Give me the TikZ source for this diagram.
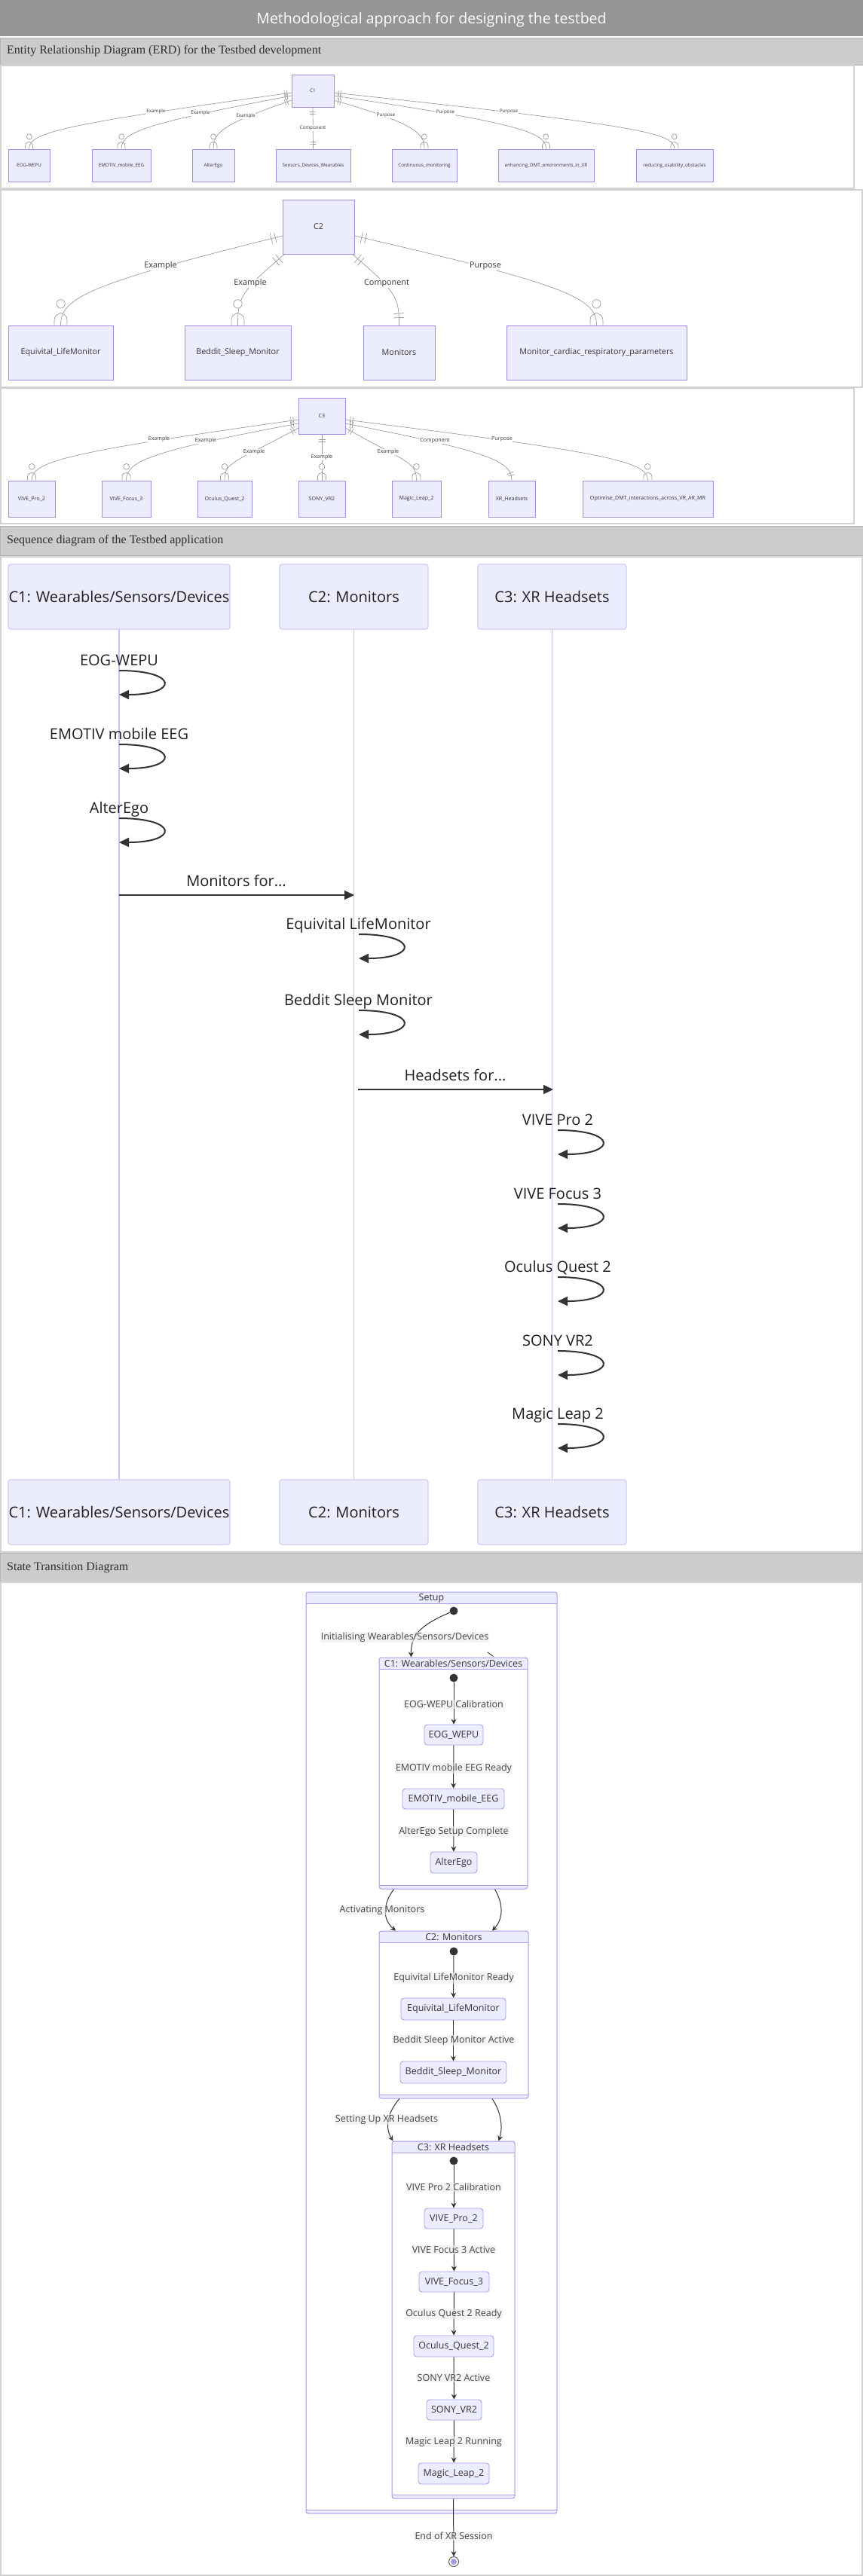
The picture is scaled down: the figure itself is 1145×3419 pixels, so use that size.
\documentclass[tikz,border=0pt]{standalone}
\usepackage{fontspec}
\setmainfont{Liberation Serif}
\newfontfamily\sansf{Open Sans}
\usetikzlibrary{calc,arrows.meta,decorations.markings}
\definecolor{titlebg}{HTML}{969696}
\definecolor{secbg}{HTML}{CCCCCC}
\definecolor{secline}{HTML}{B4B4B4}
\definecolor{panelline}{HTML}{D2D2D2}
\definecolor{nodefill}{HTML}{ECECFF}
\definecolor{purp}{HTML}{9370DB}
\definecolor{erdstroke}{HTML}{A48AE6}
\definecolor{erdedge}{HTML}{9C9C9C}
\definecolor{actorline}{HTML}{D4CAF4}
\definecolor{lifecol}{HTML}{CBC1F1}
\definecolor{ink}{HTML}{333333}
\definecolor{inklight}{HTML}{444444}
\definecolor{stroke2}{HTML}{AE9CE8}
\newcommand\fsz[1]{\fontsize{#1}{#1}\selectfont}
\newcommand\mybox[7][]{\node[#1, minimum width={(#4-#3)*1pt}, minimum height={(#6-#5)*1pt}] (#2) at ({(#3+#4)/2},{(#5+#6)/2}) {#7};}
\newcommand\erdcurve[5][]{\draw[erdline,#1] (#2) .. controls ($(#3)!-#5!(#2)$) and ($(#4.north)+(0,-\cH)$) .. (#4.north);}
\newcommand\selfmsg[5]{%
  \node[seqlab,anchor=base] (#1) at (#2,#3) {#4};
  \coordinate (#1a) at (#5,{#3+7});
  \coordinate (#1b) at (#5,{#3+39});
  \draw[msg] (#1a) .. controls +(79,0) and +(79,0) .. (#1b);}
\newcommand\composite[6]{%
  \mybox[comp]{#1}{#2}{#3}{#4}{#5}{}
  \fill[white] ({#2+1},{#4+15}) rectangle ({#3-1},{#5-5});
  \draw[stroke2,line width=0.8pt] ({#2},{#4+15}) -- ({#3},{#4+15});
  \draw[stroke2,line width=0.8pt] ({#2},{#5-5}) -- ({#3},{#5-5});
  \node[comptitle] (#1t) at ({(#2+#3)/2},{#4+8}) {#6};}
\begin{document}
\begin{tikzpicture}[x=1pt,y=-1pt,
  erdbox/.style={draw=erdstroke, fill=nodefill, line width=0.8pt, text=ink, inner sep=0pt},
  erdline/.style={draw=erdedge, line width=0.7pt},
  erdlab/.style={fill=white, inner sep=0.6pt, text=ink},
  onestart/.style={postaction={decorate,decoration={markings,
     mark=at position \tkA with {\draw[erdline] (0,-\tkL) -- (0,\tkL);},
     mark=at position \tkB with {\draw[erdline] (0,-\tkL) -- (0,\tkL);}}}},
  oneend/.style={postaction={decorate,decoration={markings,
     mark=at position -\tkA with {\draw[erdline] (0,-\tkL) -- (0,\tkL);},
     mark=at position -\tkB with {\draw[erdline] (0,-\tkL) -- (0,\tkL);}}}},
  manyend/.style={postaction={decorate,decoration={markings,
     mark=at position -0.3pt with {
       \draw[erdline] (-\crA,0) .. controls (-\crB,\crW) .. (0,\crW);
       \draw[erdline] (-\crA,0) .. controls (-\crB,-\crW) .. (0,-\crW);
       \draw[erdline,fill=white] (-\ciD,0) circle[radius=\ciR];}}}},
  actor/.style={draw=actorline, fill=nodefill, rounded corners=3pt, line width=1.2pt, text=black!88, font=\sansf\fsz{20}, inner sep=0pt},
  lifel/.style={draw=lifecol, line width=1.6pt},
  msg/.style={draw=ink, line width=2pt, -{Triangle[length=13pt,width=12pt]}},
  seqlab/.style={text=black!88, font=\sansf\fsz{20}, inner sep=0pt},
  comp/.style={draw=stroke2, fill=nodefill, rounded corners=3pt, line width=1pt, inner sep=0pt},
  comptitle/.style={font=\sansf\fsz{12.5}, text=ink, inner sep=0pt},
  stnode/.style={draw=stroke2, fill=nodefill, rounded corners=4pt, line width=0.9pt, text=ink, font=\sansf\fsz{12.5}, inner sep=0pt},
  stlab/.style={font=\sansf\fsz{12.5}, text=inklight, fill=gray!14, fill opacity=0.6, text opacity=1, inner sep=1.2pt},
  stedge/.style={draw=ink, line width=1pt, -{Stealth[length=7pt,width=7pt,inset=2.5pt]}},
  dot/.style={circle, fill=ink, minimum size=11pt, inner sep=0pt},
  sechead/.style={draw=secline, fill=secbg, line width=1pt},
  sectext/.style={anchor=west, font=\fsz{16}, text=black!82, inner sep=0pt},
  panel/.style={draw=panelline, line width=1.5pt}
]
\useasboundingbox (0,0) rectangle (1145,3419);
\fill[white] (0,0) rectangle (1145,3419);

% ---------- headers and panels ----------
\fill[titlebg] (0,0) rectangle (1145,48);
\node[font=\sansf\fsz{19.5}, text=white, inner sep=0pt] (title) at (572.5,26) {Methodological approach for designing the testbed};
\draw[sechead] (0,50) rectangle (1145,86);
\node[sectext] (h1) at (9,68) {Entity Relationship Diagram (ERD) for the Testbed development};
\draw[panel] (1,87) rectangle (1133,250);
\draw[panel] (1,252) rectangle (1144,514);
\draw[panel] (1,515) rectangle (1133,695);
\draw[sechead] (0,698) rectangle (1145,737);
\node[sectext] (h2) at (9,718) {Sequence diagram of the Testbed application};
\draw[panel] (1,739) rectangle (1144,2060);
\draw[sechead] (0,2061) rectangle (1145,2099);
\node[sectext] (h3) at (9,2081) {State Transition Diagram};
\draw[panel] (1,2100) rectangle (1144,3418);

% ---------- ERD 1 ----------
\def\tkA{6pt}\def\tkB{9pt}\def\tkL{4}\def\crA{9}\def\crB{7}\def\crW{5}\def\ciD{16}\def\ciR{3.5}\def\cH{22}
\begin{scope}[font=\sansf\fsz{6.3}]
\mybox[erdbox]{c1}{387}{443}{99}{142}{C1}
\mybox[erdbox]{ea}{11}{66}{198}{241}{EOG-WEPU}
\mybox[erdbox]{eb}{122}{200}{198}{241}{EMOTIV\_mobile\_EEG}
\mybox[erdbox]{ec}{255}{311}{198}{241}{AlterEgo}
\mybox[erdbox]{ed}{366}{465}{198}{241}{Sensors\_Devices\_Wearables}
\mybox[erdbox]{ee}{520}{606}{198}{241}{Continuous\_monitoring}
\mybox[erdbox]{ef}{661}{788}{198}{241}{enhancing\_DMT\_environments\_in\_XR}
\mybox[erdbox]{eg}{844}{946}{198}{241}{reducing\_usability\_obstacles}
\coordinate (sa) at (387,123); \coordinate (la) at (207,148);
\coordinate (sb) at (387,127); \coordinate (lb) at (266,150);
\coordinate (sc) at (387,133); \coordinate (lc) at (326,154);
\coordinate (ld) at (415,170);
\coordinate (se) at (443,133); \coordinate (le) at (512,153);
\coordinate (sf) at (443,127); \coordinate (lf) at (591,149);
\coordinate (sg) at (443,123); \coordinate (lg) at (675,148);
\erdcurve[onestart,manyend]{sa}{la}{ea}{0.69}
\erdcurve[onestart,manyend]{sb}{lb}{eb}{0.64}
\erdcurve[onestart,manyend]{sc}{lc}{ec}{0.5}
\draw[erdline,onestart,oneend] (c1.south) -- (ed.north);
\erdcurve[onestart,manyend]{se}{le}{ee}{0.53}
\erdcurve[onestart,manyend]{sf}{lf}{ef}{0.67}
\erdcurve[onestart,manyend]{sg}{lg}{eg}{0.71}
\node[erdlab] (tla) at (la) {Example};
\node[erdlab] (tlb) at (lb) {Example};
\node[erdlab] (tlc) at (lc) {Example};
\node[erdlab] (tld) at (ld) {Component};
\node[erdlab] (tle) at (le) {Purpose};
\node[erdlab] (tlf) at (lf) {Purpose};
\node[erdlab] (tlg) at (lg) {Purpose};
\end{scope}

% ---------- ERD 2 ----------
\def\tkA{10pt}\def\tkB{15.5pt}\def\tkL{7}\def\crA{16}\def\crB{12}\def\crW{8.5}\def\ciD{28}\def\ciR{5.7}\def\cH{36}
\begin{scope}[font=\sansf\fsz{10.8}]
\mybox[erdbox]{c2}{375}{470}{265}{337}{C2}
\mybox[erdbox]{fa}{11}{150}{432}{504}{Equivital\_LifeMonitor}
\mybox[erdbox]{fb}{245}{386}{432}{504}{Beddit\_Sleep\_Monitor}
\mybox[erdbox]{fc}{482}{577}{432}{504}{Monitors}
\mybox[erdbox]{fd}{672}{911}{432}{504}{Monitor\_cardiac\_respiratory\_parameters}
\coordinate (s2a) at (375,313); \coordinate (l2a) at (213,353);
\coordinate (s2b) at (378,337); \coordinate (l2b) at (332,376);
\coordinate (s2c) at (467,337); \coordinate (l2c) at (513,376);
\coordinate (s2d) at (470,313); \coordinate (l2d) at (644,353);
\erdcurve[onestart,manyend]{s2a}{l2a}{fa}{0.6}
\erdcurve[onestart,manyend]{s2b}{l2b}{fb}{0.3}
\erdcurve[onestart,oneend]{s2c}{l2c}{fc}{0.3}
\erdcurve[onestart,manyend]{s2d}{l2d}{fd}{0.62}
\node[erdlab] (t2a) at (l2a) {Example};
\node[erdlab] (t2b) at (l2b) {Example};
\node[erdlab] (t2c) at (l2c) {Component};
\node[erdlab] (t2d) at (l2d) {Purpose};
\end{scope}

% ---------- ERD 3 ----------
\def\tkA{6.7pt}\def\tkB{10pt}\def\tkL{4.5}\def\crA{10}\def\crB{8}\def\crW{5.6}\def\ciD{18}\def\ciR{3.9}\def\cH{25}
\begin{scope}[font=\sansf\fsz{7.1}]
\mybox[erdbox]{c3}{396}{458}{528}{576}{C3}
\mybox[erdbox]{ga}{11}{73}{638}{686}{VIVE\_Pro\_2}
\mybox[erdbox]{gb}{135}{200}{638}{686}{VIVE\_Focus\_3}
\mybox[erdbox]{gc}{262}{334}{638}{686}{Oculus\_Quest\_2}
\mybox[erdbox]{gd}{396}{458}{638}{686}{SONY\_VR2}
\mybox[erdbox]{ge}{520}{585}{638}{686}{Magic\_Leap\_2}
\mybox[erdbox]{gf}{648}{710}{638}{686}{XR\_Headsets}
\mybox[erdbox]{gg}{773}{946}{638}{686}{Optimise\_DMT\_interactions\_across\_VR\_AR\_MR}
\coordinate (s3a) at (396,557); \coordinate (l3a) at (211,583);
\coordinate (s3b) at (396,562); \coordinate (l3b) at (273,585);
\coordinate (s3c) at (396,568); \coordinate (l3c) at (337,600);
\coordinate (l3d) at (427,607);
\coordinate (s3e) at (458,568); \coordinate (l3e) at (515,600);
\coordinate (s3f) at (458,562); \coordinate (l3f) at (577,585);
\coordinate (s3g) at (458,557); \coordinate (l3g) at (666,583);
\erdcurve[onestart,manyend]{s3a}{l3a}{ga}{0.68}
\erdcurve[onestart,manyend]{s3b}{l3b}{gb}{0.63}
\erdcurve[onestart,manyend]{s3c}{l3c}{gc}{0.44}
\draw[erdline,onestart,manyend] (c3.south) -- (gd.north);
\erdcurve[onestart,manyend]{s3e}{l3e}{ge}{0.43}
\erdcurve[onestart,oneend]{s3f}{l3f}{gf}{0.63}
\erdcurve[onestart,manyend]{s3g}{l3g}{gg}{0.69}
\node[erdlab] (t3a) at (l3a) {Example};
\node[erdlab] (t3b) at (l3b) {Example};
\node[erdlab] (t3c) at (l3c) {Example};
\node[erdlab] (t3d) at (l3d) {Example};
\node[erdlab] (t3e) at (l3e) {Example};
\node[erdlab] (t3f) at (l3f) {Component};
\node[erdlab] (t3g) at (l3g) {Purpose};
\end{scope}

% ---------- Sequence diagram ----------
\mybox[actor]{a1t}{11}{305}{749}{835}{C1: Wearables/Sensors/Devices}
\mybox[actor]{a2t}{371}{568}{749}{835}{C2: Monitors}
\mybox[actor]{a3t}{634}{831}{749}{835}{C3: XR Headsets}
\mybox[actor]{a1b}{11}{305}{1964}{2050}{C1: Wearables/Sensors/Devices}
\mybox[actor]{a2b}{371}{568}{1964}{2050}{C2: Monitors}
\mybox[actor]{a3b}{634}{831}{1964}{2050}{C3: XR Headsets}
\draw[lifel] (a1t.south) -- (a1b.north);
\draw[lifel] (a2t.south) -- (a2b.north);
\draw[lifel] (a3t.south) -- (a3b.north);
\selfmsg{qa}{158}{883}{EOG-WEPU}{158}
\selfmsg{qb}{158}{981}{EMOTIV mobile EEG}{158}
\selfmsg{qc}{158}{1079}{AlterEgo}{158}
\node[seqlab,anchor=base] (qd) at (313.5,1176) {Monitors for...};
\coordinate (qda) at (158,1188); \coordinate (qdb) at (470,1188);
\draw[msg] (qda) -- (qdb);
\selfmsg{qe}{475.5}{1233}{Equivital LifeMonitor}{476}
\selfmsg{qf}{475.5}{1334}{Beddit Sleep Monitor}{476}
\node[seqlab,anchor=base] (qg) at (604,1434) {Headsets for...};
\coordinate (qga) at (475,1446); \coordinate (qgb) at (734,1446);
\draw[msg] (qga) -- (qgb);
\selfmsg{qh}{740}{1493}{VIVE Pro 2}{740}
\selfmsg{qi}{740}{1591}{VIVE Focus 3}{740}
\selfmsg{qj}{740}{1688}{Oculus Quest 2}{740}
\selfmsg{qk}{740}{1786}{SONY VR2}{740}
\selfmsg{ql}{740}{1883}{Magic Leap 2}{740}

% ---------- State diagram ----------
\composite{setup}{406}{739}{2113}{3336}{Setup}
\composite{cs1}{503}{700}{2200}{2507}{C1: Wearables/Sensors/Devices}
\composite{cs2}{503}{701}{2563}{2785}{C2: Monitors}
\composite{cs3}{520}{683}{2842}{3316}{C3: XR Headsets}
\node[dot] (d0) at (602,2138) {};
\node[dot] (d1) at (602,2227) {};
\node[dot] (d2) at (602,2590) {};
\node[dot] (d3) at (602,2868) {};
\mybox[stnode]{n1}{563}{641}{2289}{2316}{EOG\_WEPU}
\mybox[stnode]{n2}{534}{669}{2374}{2401}{EMOTIV\_mobile\_EEG}
\mybox[stnode]{n3}{571}{633}{2458}{2486}{AlterEgo}
\mybox[stnode]{n4}{532}{671}{2652}{2681}{Equivital\_LifeMonitor}
\mybox[stnode]{n5}{531}{672}{2736}{2765}{Beddit\_Sleep\_Monitor}
\mybox[stnode]{n6}{563}{641}{2931}{2958}{VIVE\_Pro\_2}
\mybox[stnode]{n7}{556}{649}{3015}{3042}{VIVE\_Focus\_3}
\mybox[stnode]{n8}{549}{655}{3100}{3128}{Oculus\_Quest\_2}
\mybox[stnode]{n9}{566}{639}{3185}{3212}{SONY\_VR2}
\mybox[stnode]{n10}{555}{649}{3269}{3297}{Magic\_Leap\_2}
\node[circle, draw=ink!80, fill=white, line width=1pt, minimum size=13pt, inner sep=0pt] (endst) at (602,3400) {};
\fill[purp!75] (endst.center) circle[radius=4];

\draw[stedge] (d0) .. controls (555,2158) and (545,2172) .. ($(cs1.north)+(-56,0)$);
\coordinate (tk0) at (647,2193);
\draw[ink, line width=0.9pt] (tk0) -- ($(cs1.north)+(53,-1)$);
\draw[stedge] ($(cs1.south)+(-79,0)$) .. controls (508,2527) and (507,2547) .. ($(cs2.north)+(-77,0)$);
\draw[stedge] ($(cs1.south)+(55,0)$) .. controls (668,2527) and (668,2547) .. ($(cs2.north)+(51,0)$);
\draw[stedge] ($(cs2.south)+(-72,0)$) .. controls (513,2805) and (511,2825) .. ($(cs3.north)+(-80,0)$);
\draw[stedge] ($(cs2.south)+(51,0)$) .. controls (666,2805) and (667,2825) .. ($(cs3.north)+(60,0)$);
\draw[stedge] (d1) -- (n1);
\draw[stedge] (n1) -- (n2);
\draw[stedge] (n2) -- (n3);
\draw[stedge] (d2) -- (n4);
\draw[stedge] (n4) -- (n5);
\draw[stedge] (d3) -- (n6);
\draw[stedge] (n6) -- (n7);
\draw[stedge] (n7) -- (n8);
\draw[stedge] (n8) -- (n9);
\draw[stedge] (n9) -- (n10);
\draw[stedge] (cs3.south) -- (endst.north);

\node[stlab] (r0) at (537,2173) {Initialising Wearables/Sensors/Devices};
\node[stlab] (r1) at (602,2262) {EOG-WEPU Calibration};
\node[stlab] (r2) at (602,2347) {EMOTIV mobile EEG Ready};
\node[stlab] (r3) at (602,2431) {AlterEgo Setup Complete};
\node[stlab] (r4) at (507,2535) {Activating Monitors};
\node[stlab] (r5) at (602,2625) {Equivital LifeMonitor Ready};
\node[stlab] (r6) at (602,2708) {Beddit Sleep Monitor Active};
\node[stlab] (r7) at (513,2813) {Setting Up XR Headsets};
\node[stlab] (r8) at (602,2903) {VIVE Pro 2 Calibration};
\node[stlab] (r9) at (602,2986) {VIVE Focus 3 Active};
\node[stlab] (r10) at (602,3071) {Oculus Quest 2 Ready};
\node[stlab] (r11) at (602,3156) {SONY VR2 Active};
\node[stlab] (r12) at (602,3241) {Magic Leap 2 Running};
\node[stlab] (r13) at (602,3366) {End of XR Session};
\end{tikzpicture}
\end{document}
